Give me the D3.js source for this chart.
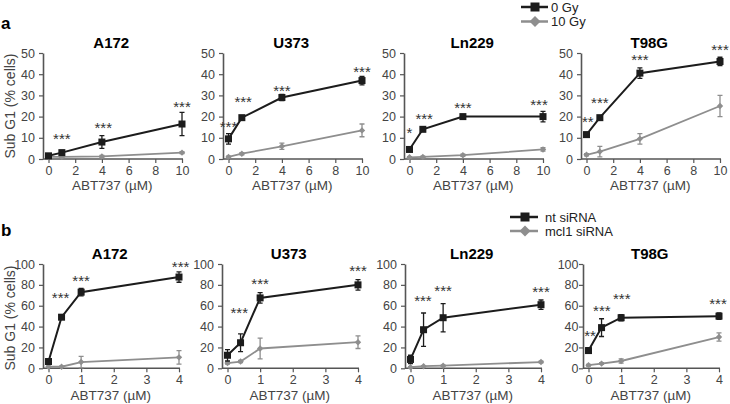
<!DOCTYPE html>
<html>
<head>
<meta charset="utf-8">
<script src="https://cdn.jsdelivr.net/npm/d3@7"></script>
<style>
  body { margin: 0; background: #fff; }
  svg { display: block; font-family: Arial, "Liberation Sans", sans-serif; }
</style>
</head>
<body>
<script>
/* Data */
var cellLines = ["A172", "U373", "Ln229", "T98G"];

// panel a: ABT737 doses, 0 Gy vs 10 Gy
var doseA = [0, 1, 4, 10];
var gy0Mean = [[1.5, 3, 8, 16.5], [9.5, 19.5, 29, 37], [4.5, 14, 20, 20], [11.5, 19.5, 40.5, 46]];
var gy0Err = [[0.5, 1, 3, 5.5], [2.5, 1, 1.5, 2], [0.5, 0.5, 0.5, 2.5], [1, 0.5, 2.5, 2]];
var gy10Mean = [[1, 1, 1.2, 3], [1, 2.5, 6, 13.5], [0.8, 1, 1.8, 4.5], [2, 3.5, 9.5, 25]];
var gy10Err = [[0.3, 0.3, 0.5, 0.5], [0.3, 0.5, 1.5, 3], [0.3, 0.3, 0.5, 0.8], [0.5, 2.5, 2.5, 5]];
// significance marks: [dose, height, label]
var starsA = [
  [[1, 10.8, "***"], [4.1, 16, "***"], [10, 26, "***"]],
  [[0, 16.4, "***"], [1.1, 28.4, "***"], [4, 33.3, "***"], [10, 42.5, "***"]],
  [[0, 13.7, "*"], [1.1, 20.3, "***"], [4, 25.5, "***"], [9.7, 27, "***"]],
  [[0.1, 18.9, "**"], [1, 28, "***"], [4, 48, "***"], [10, 53, "***"]]
];

// panel b: ABT737 doses, nt siRNA vs mcl1 siRNA
var doseB = [0, 0.4, 1, 4];
var ntMean = [[6.5, 49, 73, 87.5], [12.5, 24.5, 67.5, 80], [8.5, 37, 48.5, 61], [17, 39, 48.5, 50]];
var ntErr = [[2, 2, 3.5, 5], [5.5, 8.5, 5, 5], [4, 16, 13.5, 4.5], [2.5, 8.5, 3, 3]];
var mclMean = [[1.5, 1.5, 6, 10.5], [5, 6.5, 19, 25], [1, 2, 2.5, 6], [3, 4.5, 7, 30]];
var mclErr = [[0.5, 0.5, 5.5, 6.5], [1, 1, 10, 6], [0.5, 0.5, 0.5, 0.8], [0.8, 0.8, 2, 4]];
var starsB = [
  [[0.37, 70.3, "***"], [1, 86.9, "***"], [4.05, 100, "***"]],
  [[0.36, 55.9, "***"], [1, 83.7, "***"], [4, 96.5, "***"]],
  [[0.38, 67, "***"], [1, 77.3, "***"], [4, 75.7, "***"]],
  [[0.05, 33.5, "**"], [0.41, 57.5, "***"], [1.02, 69.6, "***"], [3.97, 64.5, "***"]]
];

var ticksA = [0, 2, 4, 6, 8, 10], ticksB = [0, 1, 2, 3, 4];
var yTicksA = [0, 10, 20, 30, 40, 50], yTicksB = [0, 20, 40, 60, 80, 100];

/* Display setup */
var width = 730, height = 404,
  black = "#1c1c1c", grey = "#8e8e8e", axisColor = "#555";

var svg = d3.select("body").append("svg")
  .attr("width", width)
  .attr("height", height);

var rows = [
  { letter: "a", letterY: 29, axisXs: [43, 223, 404, 581], yTop: 53, yBottom: 159, xDomain: [0, 10], xSpan: 133.5,
    xTicks: ticksA, yMax: 50, yTicks: yTicksA, dose: doseA,
    series: [{mean: gy0Mean, err: gy0Err, color: black, marker: "square"},
             {mean: gy10Mean, err: gy10Err, color: grey, marker: "diamond"}],
    stars: starsA, labelY: 190, titleY: 48, ylabelY: 106,
    legend: {x1: 521, x2: 548, mx: 535, y: [7, 21.5], tx: 551, text: ["0 Gy", "10 Gy"]} },
  { letter: "b", letterY: 236, axisXs: [43, 222, 405, 583], yTop: 264, yBottom: 368.3, xDomain: [0, 4], xSpan: 130.5,
    xTicks: ticksB, yMax: 100, yTicks: yTicksB, dose: doseB,
    series: [{mean: ntMean, err: ntErr, color: black, marker: "square"},
             {mean: mclMean, err: mclErr, color: grey, marker: "diamond"}],
    stars: starsB, labelY: 400, titleY: 259, ylabelY: 318,
    legend: {x1: 510, x2: 538, mx: 525, y: [217, 231], tx: 545, text: ["nt siRNA", "mcl1 siRNA"]} }
];

function drawMarker(g, type, x, y, color) {
  if (type == "square") {
    g.append("rect")
      .attr("x", x - 3.5).attr("y", y - 3.5)
      .attr("width", 7).attr("height", 7)
      .style("fill", color);
  } else {
    var s = 3.2;
    g.append("path")
      .attr("d", "M" + x + "," + (y - s) + "L" + (x + s) + "," + y + "L" + x + "," + (y + s) + "L" + (x - s) + "," + y + "Z")
      .style("fill", color);
  }
}

rows.forEach(function(row, r) {
  svg.append("text")
    .attr("x", 1).attr("y", row.letterY)
    .style("font-size", "17px").style("font-weight", "bold")
    .text(row.letter);

  cellLines.forEach(function(name, p) {
    var ax = row.axisXs[p];
    var x = d3.scaleLinear().domain(row.xDomain).range([ax + 5.5, ax + 5.5 + row.xSpan]);
    var y = d3.scaleLinear().domain([0, row.yMax]).range([row.yBottom, row.yTop]);
    var g = svg.append("g");

    // axes
    var xAxis = g.append("g")
      .attr("transform", "translate(0," + row.yBottom + ")")
      .call(d3.axisBottom(x).tickValues(row.xTicks).tickFormat(d3.format("d")).tickSize(4).tickSizeOuter(0));
    xAxis.select(".domain").attr("d", "M" + ax + ",0H" + (ax + 5.5 + row.xSpan + 1));
    var tightLabels = (r == 1 && p == 3);
    g.append("g")
      .attr("transform", "translate(" + ax + ",0)")
      .call(d3.axisLeft(y).tickValues(row.yTicks).tickSize(4).tickSizeOuter(0).tickPadding(tightLabels ? 0.5 : 4));
    g.selectAll(".domain").style("stroke", axisColor).style("stroke-width", 1.6);
    g.selectAll(".tick line").style("stroke", axisColor).style("stroke-width", 1.2);
    g.selectAll(".tick text").style("fill", "#444").style("font-size", "12.5px")
      .style("font-family", "Arial, 'Liberation Sans', sans-serif");

    // title and labels
    g.append("text")
      .attr("x", ax + 5.5 + row.xSpan / 2 - 4).attr("y", row.titleY)
      .attr("text-anchor", "middle")
      .style("font-size", "15px").style("font-weight", "bold")
      .text(name);
    g.append("text")
      .attr("x", ax + 5.5 + row.xSpan / 2 - 3).attr("y", row.labelY)
      .attr("text-anchor", "middle")
      .style("font-size", "13.5px").style("fill", "#444")
      .text("ABT737 (\u00b5M)");
    if (p == 0) {
      g.append("text")
        .attr("transform", "translate(15," + row.ylabelY + ") rotate(-90)")
        .attr("text-anchor", "middle")
        .style("font-size", "14px").style("fill", "#444")
        .text("Sub G1 (% cells)");
    }

    // series, grey first so black sits on top
    row.series.slice().reverse().forEach(function(s) {
      var pts = row.dose.map(function(d, i) { return {d: d, m: s.mean[p][i], e: s.err[p][i]}; });
      var line = d3.line().x(function(d) { return x(d.d); }).y(function(d) { return y(d.m); });
      g.append("path")
        .attr("d", line(pts))
        .style("fill", "none")
        .style("stroke", s.color)
        .style("stroke-width", s.marker == "square" ? 2 : 1.8);
      pts.forEach(function(d) {
        var cx = x(d.d), top = y(d.m + d.e), bot = y(d.m - d.e);
        g.append("path")
          .attr("d", "M" + cx + "," + top + "V" + bot + "M" + (cx - 2.5) + "," + top + "H" + (cx + 2.5) + "M" + (cx - 2.5) + "," + bot + "H" + (cx + 2.5))
          .style("stroke", s.color).style("stroke-width", 1.3).style("fill", "none");
        drawMarker(g, s.marker, cx, y(d.m), s.color);
      });
    });

    // significance stars
    row.stars[p].forEach(function(st) {
      g.append("text")
        .attr("x", x(st[0])).attr("y", y(st[1]) + 8)
        .attr("text-anchor", "middle")
        .style("font-size", "15px").style("fill", "#333")
        .text(st[2]);
    });
  });

  // legend
  var lg = row.legend;
  row.series.forEach(function(s, i) {
    svg.append("line")
      .attr("x1", lg.x1).attr("x2", lg.x2)
      .attr("y1", lg.y[i]).attr("y2", lg.y[i])
      .style("stroke", s.color).style("stroke-width", 2.5);
    var lm = svg.append("g");
    if (s.marker == "square") {
      lm.append("rect").attr("x", lg.mx - 4.5).attr("y", lg.y[i] - 4.5).attr("width", 9).attr("height", 9).style("fill", s.color);
    } else {
      lm.append("path").attr("d", "M" + lg.mx + "," + (lg.y[i] - 5.5) + "l5.5,5.5l-5.5,5.5l-5.5,-5.5z").style("fill", s.color);
    }
    svg.append("text")
      .attr("x", lg.tx).attr("y", lg.y[i] + 4.5)
      .style("font-size", "13px").style("fill", "#222")
      .text(lg.text[i]);
  });
});
</script>
</body>
</html>
